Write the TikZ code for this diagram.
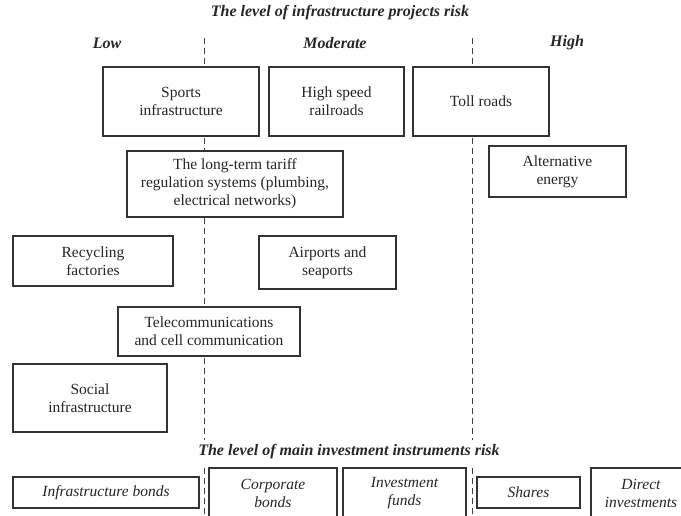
\documentclass[tikz,border=0pt]{standalone}
\usepackage{fontspec}
\setmainfont{Liberation Serif}
\begin{document}
\begin{tikzpicture}[x=1pt,y=-1pt,
  box/.style={draw=black!80, line width=1.1pt, fill=white, inner sep=0pt, align=center,
    text=black!85, font=\fontsize{15.5}{18}\selectfont},
  ibox/.style={box, font=\fontsize{15.5}{18}\selectfont\itshape},
  head/.style={font=\fontsize{16}{18}\selectfont\bfseries\itshape, inner sep=0pt, text=black!85},
  divider/.style={draw=black!75, line width=0.9pt, dash pattern=on 6pt off 4pt}]
\useasboundingbox (0,0) rectangle (681,516);
\clip (0,0) rectangle (681,516);

% dividers
\coordinate (l1) at (204,38); \coordinate (l2) at (204,440);
\coordinate (r1) at (472,38); \coordinate (r2) at (472,440);
\coordinate (lb1) at (204,468); \coordinate (lb2) at (204,516);
\coordinate (rb1) at (472,468); \coordinate (rb2) at (472,516);
\draw[divider] (l1) -- (l2);
\draw[divider] (r1) -- (r2);
\draw[divider] (lb1) -- (lb2);
\draw[divider] (rb1) -- (rb2);

% headings
\node[head] (title) at (340,13) {The level of infrastructure projects risk};
\node[head] (low) at (107,43) {Low};
\node[head] (moderate) at (335,43) {Moderate};
\node[head] (high) at (567,43) {High};
\node[head] (title2) at (349,452) {The level of main investment instruments risk};

% project boxes
\node[box, minimum width=156, minimum height=69] (sports) at (181,101.5) {Sports\\infrastructure};
\node[box, minimum width=135, minimum height=69] (hsr) at (336.5,101.5) {High speed\\railroads};
\node[box, minimum width=136, minimum height=69] (toll) at (481,101.5) {Toll roads};
\node[box, minimum width=216, minimum height=66] (tariff) at (235,184) {The long-term tariff\\regulation systems (plumbing,\\electrical networks)};
\node[box, minimum width=137, minimum height=51] (alt) at (557.5,171.5) {Alternative\\energy};
\node[box, minimum width=160, minimum height=50] (recycl) at (93,261) {Recycling\\factories};
\node[box, minimum width=137, minimum height=53] (airports) at (327.5,262.5) {Airports and\\seaports};
\node[box, minimum width=182, minimum height=49] (telecom) at (209,331.5) {Telecommunications\\and cell communication};
\node[box, minimum width=154, minimum height=68] (social) at (90,398) {Social\\infrastructure};

% instrument boxes
\node[ibox, minimum width=186, minimum height=31] (ibonds) at (106,492.5) {Infrastructure bonds};
\node[ibox, minimum width=128, minimum height=50] (corp) at (273,493) {Corporate\\bonds};
\node[ibox, minimum width=123, minimum height=50] (invf) at (404.5,493) {Investment\\funds};
\node[ibox, minimum width=103, minimum height=31] (shares) at (528.5,492.5) {Shares};
\node[ibox, minimum width=100, minimum height=50] (direct) at (641,493) {Direct\\investments};
\end{tikzpicture}
\end{document}
